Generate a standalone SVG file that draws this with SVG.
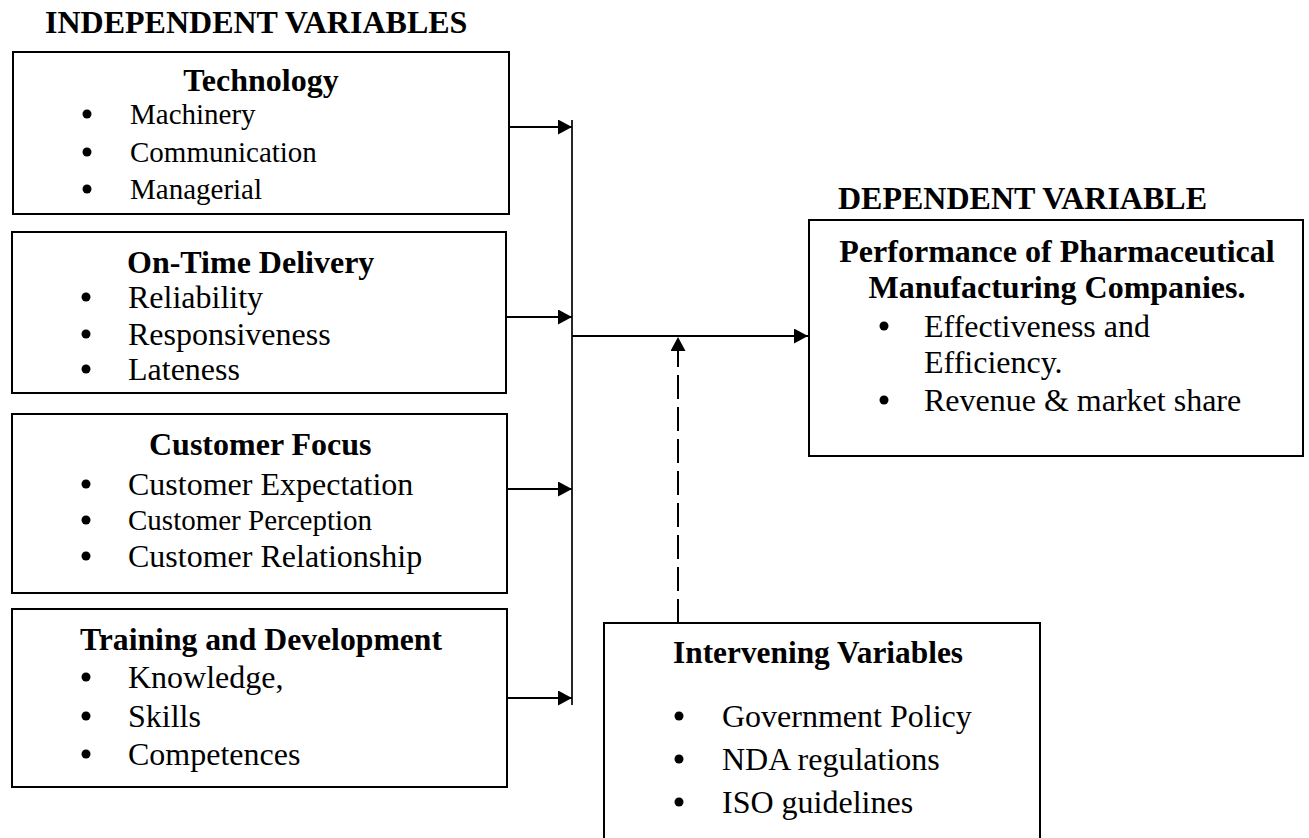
<svg xmlns="http://www.w3.org/2000/svg" width="1309" height="838" viewBox="0 0 1309 838">
  <style>
    text { font-family: "Liberation Serif", "Times New Roman", serif; fill: #000; }
    .head { font-size: 32px; font-weight: bold; }
    .ttl { font-size: 32px; font-weight: bold; }
    .item { font-size: 32px; }
    .small { font-size: 29px; }
    .box { fill: #fff; stroke: #000; stroke-width: 2; }
    .dot { fill: #000; }
    .link { stroke: #000; stroke-width: 2; fill: none; }
    .trunk { stroke: #000; stroke-width: 1.7; fill: none; }
    .dash { stroke: #000; stroke-width: 2; fill: none; stroke-dasharray: 24 8; }
  </style>
  <defs>
    <marker id="arrow" markerUnits="userSpaceOnUse" markerWidth="15" markerHeight="16" refX="14" refY="7.5" orient="auto">
      <path d="M0,0 L14,7.5 L0,15 z" fill="#000"/>
    </marker>
  </defs>
  <rect width="1309" height="838" fill="#fff"/>

  <!-- section headings -->
  <text id="independent-heading" class="head" x="45" y="33">INDEPENDENT VARIABLES</text>
  <text id="dependent-heading" class="head" x="838" y="209">DEPENDENT VARIABLE</text>

  <!-- independent variables -->
  <g id="technology">
    <rect class="box" x="13" y="52" width="496" height="162"/>
    <text class="ttl" x="261" y="91" text-anchor="middle">Technology</text>
    <circle class="dot" cx="87" cy="114" r="4.5"/>
    <text class="small" x="130" y="124">Machinery</text>
    <circle class="dot" cx="87" cy="152" r="4.5"/>
    <text class="small" x="130" y="162">Communication</text>
    <circle class="dot" cx="87" cy="189" r="4.5"/>
    <text class="small" x="130" y="199">Managerial</text>
  </g>

  <g id="on-time-delivery">
    <rect class="box" x="12" y="232" width="494" height="161"/>
    <text class="ttl" x="127" y="273">On-Time Delivery</text>
    <circle class="dot" cx="86" cy="297" r="4.5"/>
    <text class="item" x="128" y="308">Reliability</text>
    <circle class="dot" cx="86" cy="334" r="4.5"/>
    <text class="item" x="128" y="345">Responsiveness</text>
    <circle class="dot" cx="86" cy="369" r="4.5"/>
    <text class="item" x="128" y="380">Lateness</text>
  </g>

  <g id="customer-focus">
    <rect class="box" x="12" y="414" width="495" height="179"/>
    <text class="ttl" x="149" y="455">Customer Focus</text>
    <circle class="dot" cx="86" cy="484" r="4.5"/>
    <text class="item" x="128" y="495">Customer Expectation</text>
    <circle class="dot" cx="86" cy="520" r="4.5"/>
    <text class="small" x="128" y="530">Customer Perception</text>
    <circle class="dot" cx="86" cy="556" r="4.5"/>
    <text class="item" x="128" y="567">Customer Relationship</text>
  </g>

  <g id="training-development">
    <rect class="box" x="12" y="609" width="495" height="178"/>
    <text class="ttl" x="80" y="650" textLength="362" lengthAdjust="spacingAndGlyphs">Training and Development</text>
    <circle class="dot" cx="86" cy="677" r="4.5"/>
    <text class="item" x="128" y="688">Knowledge,</text>
    <circle class="dot" cx="86" cy="716" r="4.5"/>
    <text class="item" x="128" y="727">Skills</text>
    <circle class="dot" cx="86" cy="754" r="4.5"/>
    <text class="item" x="128" y="765">Competences</text>
  </g>

  <!-- dependent variable -->
  <g id="performance">
    <rect class="box" x="809" y="220" width="494" height="236"/>
    <text class="ttl" x="1057" y="262" text-anchor="middle">Performance of Pharmaceutical</text>
    <text class="ttl" x="1057" y="298" text-anchor="middle">Manufacturing Companies.</text>
    <circle class="dot" cx="884" cy="326" r="4.5"/>
    <text class="item" x="924" y="337">Effectiveness and</text>
    <text class="item" x="924" y="373">Efficiency.</text>
    <circle class="dot" cx="884" cy="400" r="4.5"/>
    <text class="item" x="924" y="411">Revenue &amp; market share</text>
  </g>

  <!-- intervening variables (box runs past the lower edge) -->
  <g id="intervening">
    <rect class="box" x="604" y="623" width="436" height="240"/>
    <text class="ttl" x="673" y="663" textLength="290" lengthAdjust="spacingAndGlyphs">Intervening Variables</text>
    <circle class="dot" cx="679" cy="716" r="4.5"/>
    <text class="item" x="722" y="727">Government Policy</text>
    <circle class="dot" cx="679" cy="759" r="4.5"/>
    <text class="item" x="722" y="770">NDA regulations</text>
    <circle class="dot" cx="679" cy="802" r="4.5"/>
    <text class="item" x="722" y="813">ISO guidelines</text>
  </g>

  <!-- connectors -->
  <g id="connectors">
    <line class="link" x1="509" y1="127" x2="572" y2="127" marker-end="url(#arrow)"/>
    <line class="link" x1="506" y1="317" x2="572" y2="317" marker-end="url(#arrow)"/>
    <line class="link" x1="507" y1="489" x2="572" y2="489" marker-end="url(#arrow)"/>
    <line class="link" x1="507" y1="698" x2="572" y2="698" marker-end="url(#arrow)"/>
    <line class="trunk" x1="572" y1="120" x2="572" y2="705"/>
    <line class="link" x1="572" y1="336" x2="808" y2="336" marker-end="url(#arrow)"/>
    <line class="dash" x1="678" y1="623" x2="678" y2="337" marker-end="url(#arrow)"/>
  </g>
</svg>
